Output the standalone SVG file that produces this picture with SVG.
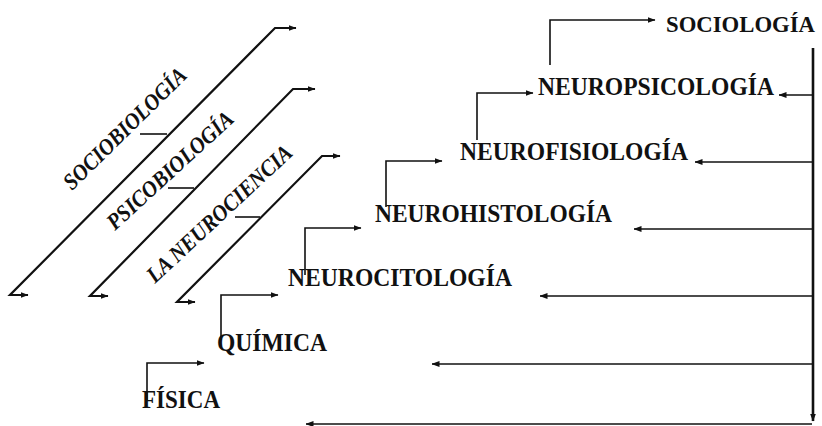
<svg xmlns="http://www.w3.org/2000/svg" width="822" height="426" viewBox="0 0 822 426">
<defs>
<marker id="ah" markerUnits="userSpaceOnUse" markerWidth="8" markerHeight="6" refX="7.5" refY="3" orient="auto-start-reverse" viewBox="0 0 8 6">
<path d="M0,0 L8,3 L0,6 z" fill="#111"/>
</marker>
<style>
.t{font-family:"Liberation Serif","Times New Roman",serif;font-weight:bold;font-size:25px;fill:#111}
.d{font-family:"Liberation Serif","Times New Roman",serif;font-weight:bold;font-style:italic;font-size:23px;fill:#111}
.c{fill:none;stroke:#111;stroke-width:1.6}
.dg{fill:none;stroke:#111;stroke-width:2.2}
.v{fill:none;stroke:#111;stroke-width:2.6}
.a{marker-end:url(#ah)}
.b{marker-start:url(#ah);marker-end:url(#ah)}
</style>
</defs>
<rect width="822" height="426" fill="#fff"/>
<g id="connectors">
<path class="dg b" d="M28,295 L10,295 L275,28 L296,28"/>
<path class="dg b" d="M108,296 L90,296 L293,89 L315,89"/>
<path class="dg b" d="M195,302 L177,302 L322,156 L340,156"/>
<path class="c" d="M140,134 H167"/>
<path class="c" d="M168,188 H194"/>
<path class="c" d="M235,217 H260"/>
<path class="c a" d="M147,400 V363 H204"/>
<path class="c a" d="M221,340 V295 H278"/>
<path class="c a" d="M305,275 V228 H361"/>
<path class="c a" d="M386,207 V161 H442"/>
<path class="c a" d="M477,140 V93 H533"/>
<path class="c a" d="M550,65 V20 H655"/>
<path class="v a" d="M813,48 V421"/>
<path class="c a" d="M813,95 H779"/>
<path class="c a" d="M813,162 H695"/>
<path class="c a" d="M813,229 H634"/>
<path class="c a" d="M813,296 H540"/>
<path class="c a" d="M813,364 H432"/>
<path class="c a" d="M812,424 H306"/>
</g>
<g id="sociobiologia"><text class="d" transform="translate(72,191) rotate(-44.5)" textLength="163" lengthAdjust="spacingAndGlyphs">SOCIOBIOLOGÍA</text></g>
<g id="psicobiologia"><text class="d" transform="translate(115,231) rotate(-42.5)" textLength="163" lengthAdjust="spacingAndGlyphs">PSICOBIOLOGÍA</text></g>
<g id="la-neurociencia"><text class="d" transform="translate(155,284) rotate(-43)" textLength="190" lengthAdjust="spacingAndGlyphs">LA NEUROCIENCIA</text></g>
<g id="sociologia"><text class="t" x="666" y="32" style="font-size:23px" textLength="149" lengthAdjust="spacingAndGlyphs">SOCIOLOGÍA</text></g>
<g id="neuropsicologia"><text class="t" x="538" y="95" textLength="236" lengthAdjust="spacingAndGlyphs">NEUROPSICOLOGÍA</text></g>
<g id="neurofisiologia"><text class="t" x="460" y="160" textLength="228" lengthAdjust="spacingAndGlyphs">NEUROFISIOLOGÍA</text></g>
<g id="neurohistologia"><text class="t" x="375" y="222" textLength="237" lengthAdjust="spacingAndGlyphs">NEUROHISTOLOGÍA</text></g>
<g id="neurocitologia"><text class="t" x="288" y="286" textLength="224" lengthAdjust="spacingAndGlyphs">NEUROCITOLOGÍA</text></g>
<g id="quimica"><text class="t" x="217" y="351" textLength="110" lengthAdjust="spacingAndGlyphs">QUÍMICA</text></g>
<g id="fisica"><text class="t" x="142" y="408" textLength="78" lengthAdjust="spacingAndGlyphs">FÍSICA</text></g>
</svg>
